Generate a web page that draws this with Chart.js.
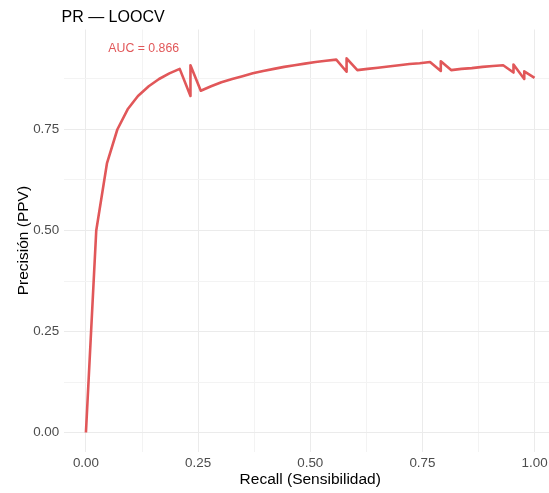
<!DOCTYPE html>
<html>
<head>
<meta charset="utf-8">
<title>PR — LOOCV</title>
<script src="https://cdn.jsdelivr.net/npm/chart.js@4.4.1/dist/chart.umd.min.js"></script>
<style>
html, body { margin: 0; padding: 0; background: #fff; overflow: hidden; }
#wrap { position: relative; width: 564px; height: 493px; }
</style>
</head>
<body>
<div id="wrap"><canvas id="prChart"></canvas></div>
<script>
// precision / recall pairs of the LOOCV curve
var recall = [
  0.000, 0.023, 0.047, 0.070, 0.093, 0.116, 0.140, 0.163, 0.186, 0.209,
  0.233, 0.233, 0.256, 0.279, 0.302, 0.326, 0.349, 0.372, 0.395, 0.419,
  0.442, 0.465, 0.488, 0.512, 0.535, 0.558, 0.581, 0.581, 0.605, 0.628,
  0.651, 0.674, 0.698, 0.721, 0.744, 0.767, 0.791, 0.791, 0.814, 0.837,
  0.860, 0.884, 0.907, 0.930, 0.953, 0.953, 0.977, 0.977, 1.000
];
var precision = [
  0.000, 0.500, 0.667, 0.750, 0.800, 0.833, 0.857, 0.875, 0.889, 0.900,
  0.833, 0.909, 0.846, 0.857, 0.867, 0.875, 0.882, 0.889, 0.895, 0.900,
  0.905, 0.909, 0.913, 0.917, 0.920, 0.923, 0.893, 0.926, 0.897, 0.900,
  0.903, 0.906, 0.909, 0.912, 0.914, 0.917, 0.895, 0.919, 0.897, 0.900,
  0.902, 0.905, 0.907, 0.909, 0.891, 0.911, 0.875, 0.894, 0.878
];
var xTicks = [0, 0.125, 0.25, 0.375, 0.5, 0.625, 0.75, 0.875, 1];
var yTicks = [0, 0.125, 0.25, 0.375, 0.5, 0.625, 0.75, 0.875];
var aucLabel = 'AUC = 0.866';
var aucX = 0.05, aucY = 0.95;

var lineColor = '#E15759';
var fontFamily = '"Liberation Sans", Arial, Helvetica, sans-serif';

var points = recall.map(function (r, i) { return { x: r, y: precision[i] }; });

function isMajor(v) { return Math.abs(v * 4 - Math.round(v * 4)) < 1e-9; }
function gridColor(c) { return isMajor(c.tick.value) ? '#EBEBEB' : '#F3F3F3'; }
function tickLabel(v) { return isMajor(v) ? v.toFixed(2) : ''; }

// title and AUC note
var textPlugin = {
  id: 'prText',
  afterDraw: function (chart) {
    var ctx = chart.ctx;
    var xs = chart.scales.x, ys = chart.scales.y;
    ctx.save();
    ctx.textAlign = 'left';
    ctx.textBaseline = 'alphabetic';
    ctx.fillStyle = '#000';
    ctx.font = '16px ' + fontFamily;
    ctx.fillText('PR — LOOCV', chart.chartArea.left - 2, 21.7);
    ctx.fillStyle = lineColor;
    ctx.font = '12.3px ' + fontFamily;
    ctx.textBaseline = 'middle';
    ctx.fillText(aucLabel, xs.getPixelForValue(aucX), ys.getPixelForValue(aucY));
    ctx.restore();
  }
};

var ctx = document.getElementById('prChart').getContext('2d');
var chart = new Chart(ctx, {
  type: 'line',
  data: {
    datasets: [{
      data: points,
      borderColor: lineColor,
      borderWidth: 2.6,
      borderJoinStyle: 'round',
      pointRadius: 0,
      tension: 0,
      fill: false
    }]
  },
  options: {
    responsive: true,
    maintainAspectRatio: false,
    animation: false,
    layout: { padding: { left: 0, top: 29.5, right: 7, bottom: 0 } },
    plugins: { legend: { display: false }, tooltip: { enabled: false } },
    scales: {
      x: {
        type: 'linear',
        min: -0.05,
        max: 1.05,
        afterBuildTicks: function (s) { s.ticks = xTicks.map(function (v) { return { value: v }; }); },
        afterFit: function (s) { s.height = 41.3; },
        grid: { color: gridColor, lineWidth: 1, drawTicks: false },
        border: { display: false },
        ticks: {
          autoSkip: false, maxRotation: 0, padding: 4,
          color: '#4D4D4D', font: { family: fontFamily, size: 13.4 },
          callback: tickLabel
        },
        title: {
          display: true, text: 'Recall (Sensibilidad)', color: '#000',
          font: { family: fontFamily, size: 15.5 }, padding: { top: 0, bottom: 4 }
        }
      },
      y: {
        type: 'linear',
        min: -0.0475,
        max: 0.9975,
        afterBuildTicks: function (s) { s.ticks = yTicks.map(function (v) { return { value: v }; }); },
        afterFit: function (s) { s.width = 63.5; },
        grid: { color: gridColor, lineWidth: 1, drawTicks: false },
        border: { display: false },
        ticks: {
          autoSkip: false, padding: 4.3,
          color: '#4D4D4D', font: { family: fontFamily, size: 13.4 },
          callback: tickLabel
        },
        title: {
          display: true, text: 'Precisión (PPV)', color: '#000',
          font: { family: fontFamily, size: 15.5 }, padding: { top: 14, bottom: 0 }
        }
      }
    }
  },
  plugins: [textPlugin]
});
</script>
</body>
</html>
